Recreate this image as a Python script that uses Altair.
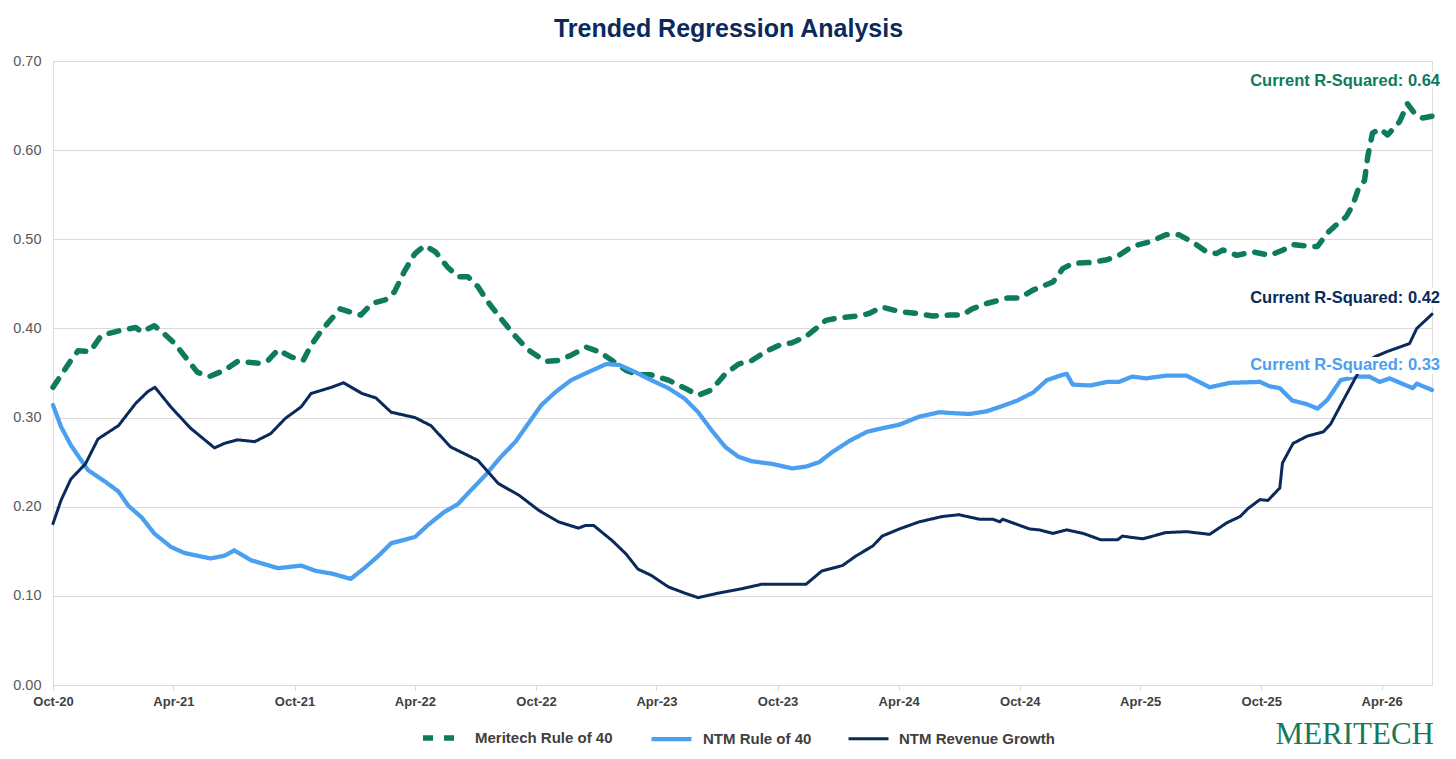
import altair as alt
import pandas as pd

series_names = ["Meritech Rule of 40", "NTM Rule of 40", "NTM Revenue Growth"]
series_colors = ["#0f7b5e", "#4a9ff0", "#0b2a5c"]

meritech_dates = [
    "2020-10-01", "2020-10-28", "2020-11-08", "2020-11-26", "2020-12-13", "2021-01-12", "2021-02-03", "2021-02-12", "2021-03-03", "2021-03-15",
    "2021-04-03", "2021-04-19", "2021-05-07", "2021-05-25", "2021-06-17", "2021-07-07", "2021-08-07", "2021-08-22", "2021-09-06", "2021-09-26",
    "2021-10-14", "2021-10-26", "2021-11-11", "2021-12-09", "2021-12-26", "2022-01-09", "2022-01-26", "2022-02-15", "2022-03-01", "2022-03-16",
    "2022-04-01", "2022-04-16", "2022-05-02", "2022-05-20", "2022-06-05", "2022-06-20", "2022-07-05", "2022-07-20", "2022-08-09", "2022-08-31",
    "2022-09-19", "2022-10-15", "2022-11-04", "2022-11-23", "2022-12-16", "2023-01-04", "2023-01-24", "2023-02-14", "2023-03-04", "2023-03-24",
    "2023-04-19", "2023-05-14", "2023-06-03", "2023-06-23", "2023-07-14", "2023-08-03", "2023-08-23", "2023-09-13", "2023-10-03", "2023-10-23",
    "2023-11-13", "2023-12-03", "2023-12-13", "2024-01-02", "2024-02-02", "2024-02-17", "2024-03-07", "2024-04-02", "2024-04-27", "2024-05-22",
    "2024-06-16", "2024-07-06", "2024-07-21", "2024-08-12", "2024-09-12", "2024-10-01", "2024-10-21", "2024-11-20", "2024-12-05", "2024-12-20",
    "2025-01-16", "2025-02-10", "2025-02-28", "2025-03-20", "2025-04-15", "2025-05-10", "2025-05-30", "2025-06-19", "2025-07-10", "2025-07-25",
    "2025-08-04", "2025-08-25", "2025-09-18", "2025-10-14", "2025-11-03", "2025-11-18", "2025-12-14", "2025-12-25", "2026-01-09", "2026-01-25",
    "2026-02-06", "2026-02-16", "2026-02-24", "2026-03-06", "2026-03-11", "2026-03-18", "2026-03-29", "2026-04-10", "2026-04-28", "2026-05-10",
    "2026-05-21", "2026-06-02", "2026-06-16",
]
meritech_values = [
    0.334, 0.364, 0.375, 0.374, 0.392, 0.398, 0.401, 0.396, 0.403, 0.396,
    0.383, 0.368, 0.351, 0.346, 0.353, 0.363, 0.361, 0.364, 0.376, 0.368,
    0.364, 0.381, 0.398, 0.422, 0.418, 0.415, 0.428, 0.432, 0.441, 0.464,
    0.484, 0.493, 0.486, 0.469, 0.458, 0.458, 0.447, 0.430, 0.411, 0.391,
    0.376, 0.363, 0.364, 0.370, 0.379, 0.374, 0.364, 0.353, 0.348, 0.348,
    0.342, 0.333, 0.325, 0.331, 0.349, 0.360, 0.364, 0.374, 0.381, 0.384,
    0.391, 0.403, 0.409, 0.412, 0.414, 0.417, 0.424, 0.419, 0.417, 0.414,
    0.415, 0.415, 0.422, 0.428, 0.434, 0.434, 0.443, 0.452, 0.467, 0.473,
    0.474, 0.477, 0.482, 0.492, 0.497, 0.505, 0.505, 0.497, 0.486, 0.484,
    0.488, 0.482, 0.486, 0.482, 0.488, 0.494, 0.492, 0.492, 0.507, 0.518,
    0.525, 0.538, 0.555, 0.566, 0.593, 0.619, 0.624, 0.617, 0.632, 0.652,
    0.641, 0.636, 0.638,
]

ntm_r40_dates = [
    "2020-10-01", "2020-10-13", "2020-10-28", "2020-11-23", "2020-12-19", "2021-01-08", "2021-01-23", "2021-02-12", "2021-03-03", "2021-03-28",
    "2021-04-18", "2021-05-07", "2021-05-27", "2021-06-17", "2021-07-02", "2021-07-27", "2021-09-06", "2021-10-11", "2021-11-02", "2021-11-26",
    "2021-12-25", "2022-01-16", "2022-02-05", "2022-02-24", "2022-04-01", "2022-04-20", "2022-05-15", "2022-06-05", "2022-06-24", "2022-07-16",
    "2022-08-09", "2022-08-31", "2022-09-19", "2022-10-09", "2022-10-31", "2022-11-23", "2022-12-19", "2023-01-15", "2023-02-04", "2023-02-28",
    "2023-03-24", "2023-04-19", "2023-05-14", "2023-06-03", "2023-06-23", "2023-07-14", "2023-08-03", "2023-08-23", "2023-09-23", "2023-10-23",
    "2023-11-13", "2023-12-03", "2023-12-22", "2024-01-18", "2024-02-13", "2024-03-07", "2024-04-02", "2024-05-02", "2024-06-02", "2024-06-21",
    "2024-07-17", "2024-08-12", "2024-09-01", "2024-09-27", "2024-10-21", "2024-11-11", "2024-12-05", "2024-12-11", "2024-12-20", "2025-01-16",
    "2025-02-10", "2025-02-28", "2025-03-20", "2025-04-10", "2025-05-10", "2025-06-10", "2025-06-29", "2025-07-15", "2025-08-15", "2025-09-29",
    "2025-10-14", "2025-10-29", "2025-11-17", "2025-12-09", "2025-12-25", "2026-01-09", "2026-01-29", "2026-02-23", "2026-03-13", "2026-03-29",
    "2026-04-13", "2026-05-02", "2026-05-18", "2026-05-24", "2026-06-16",
]
ntm_r40_values = [
    0.314, 0.290, 0.269, 0.241, 0.228, 0.217, 0.201, 0.188, 0.170, 0.155,
    0.148, 0.145, 0.142, 0.145, 0.151, 0.140, 0.131, 0.134, 0.128, 0.125,
    0.119, 0.132, 0.145, 0.159, 0.166, 0.179, 0.194, 0.203, 0.218, 0.235,
    0.256, 0.273, 0.293, 0.314, 0.329, 0.342, 0.351, 0.360, 0.359, 0.351,
    0.342, 0.333, 0.321, 0.306, 0.286, 0.267, 0.256, 0.251, 0.248, 0.243,
    0.245, 0.250, 0.261, 0.274, 0.284, 0.288, 0.292, 0.301, 0.306, 0.305,
    0.304, 0.307, 0.312, 0.319, 0.328, 0.342, 0.348, 0.349, 0.337, 0.336,
    0.340, 0.340, 0.346, 0.344, 0.347, 0.347, 0.340, 0.334, 0.339, 0.340,
    0.335, 0.333, 0.319, 0.315, 0.310, 0.320, 0.342, 0.346, 0.346, 0.340,
    0.344, 0.338, 0.333, 0.338, 0.331,
]

ntm_growth_dates = [
    "2020-10-01", "2020-10-13", "2020-10-28", "2020-11-19", "2020-12-08", "2021-01-08", "2021-02-03", "2021-02-21", "2021-03-04", "2021-03-28",
    "2021-04-27", "2021-06-02", "2021-06-17", "2021-07-07", "2021-08-02", "2021-08-26", "2021-09-17", "2021-10-11", "2021-10-26", "2021-11-26",
    "2021-12-14", "2022-01-11", "2022-02-01", "2022-02-24", "2022-04-01", "2022-04-25", "2022-05-25", "2022-07-05", "2022-08-05", "2022-09-05",
    "2022-10-05", "2022-11-04", "2022-12-04", "2022-12-15", "2022-12-27", "2023-01-24", "2023-02-14", "2023-03-04", "2023-03-24", "2023-04-19",
    "2023-05-14", "2023-06-03", "2023-07-03", "2023-08-08", "2023-09-07", "2023-10-14", "2023-11-13", "2023-12-07", "2024-01-07", "2024-01-28",
    "2024-02-22", "2024-03-07", "2024-04-02", "2024-05-02", "2024-06-06", "2024-07-01", "2024-08-01", "2024-08-21", "2024-09-01", "2024-09-05",
    "2024-10-16", "2024-10-31", "2024-11-20", "2024-12-11", "2025-01-05", "2025-01-31", "2025-02-26", "2025-03-05", "2025-04-05", "2025-05-10",
    "2025-06-10", "2025-07-15", "2025-08-10", "2025-08-30", "2025-09-11", "2025-09-29", "2025-10-11", "2025-10-29", "2025-11-02", "2025-11-18",
    "2025-12-09", "2026-01-03", "2026-01-14", "2026-01-29", "2026-02-17", "2026-03-01", "2026-03-21", "2026-04-09", "2026-04-28", "2026-05-13",
    "2026-05-24", "2026-06-06", "2026-06-16",
]
ntm_growth_values = [
    0.181, 0.207, 0.231, 0.248, 0.276, 0.291, 0.316, 0.329, 0.334, 0.312,
    0.288, 0.266, 0.271, 0.275, 0.273, 0.282, 0.299, 0.312, 0.327, 0.334,
    0.339, 0.327, 0.322, 0.306, 0.300, 0.291, 0.267, 0.252, 0.226, 0.213,
    0.196, 0.183, 0.176, 0.179, 0.179, 0.162, 0.147, 0.130, 0.123, 0.110,
    0.103, 0.098, 0.103, 0.108, 0.113, 0.113, 0.113, 0.128, 0.134, 0.145,
    0.156, 0.167, 0.175, 0.183, 0.189, 0.191, 0.186, 0.186, 0.183, 0.186,
    0.175, 0.174, 0.170, 0.174, 0.170, 0.163, 0.163, 0.167, 0.164, 0.171,
    0.172, 0.169, 0.182, 0.189, 0.198, 0.208, 0.207, 0.221, 0.249, 0.271,
    0.279, 0.284, 0.293, 0.314, 0.340, 0.357, 0.368, 0.374, 0.379, 0.383,
    0.400, 0.409, 0.416,
]

annotation_texts = ["Current R-Squared: 0.64", "Current R-Squared: 0.33", "Current R-Squared: 0.42"]
y_ticks = [0.0, 0.1, 0.2, 0.3, 0.4, 0.5, 0.6, 0.7]
x_tick_months = [(2020, 10), (2021, 4), (2021, 10), (2022, 4), (2022, 10), (2023, 4), (2023, 10),
                 (2024, 4), (2024, 10), (2025, 4), (2025, 10), (2026, 4)]

frames = []
for name, d, v in zip(series_names,
                      [meritech_dates, ntm_r40_dates, ntm_growth_dates],
                      [meritech_values, ntm_r40_values, ntm_growth_values]):
    frames.append(pd.DataFrame({"date": d, "value": v, "series": name}))
df = pd.concat(frames, ignore_index=True)

last = df.groupby("series", sort=False).tail(1).copy()
last["label"] = annotation_texts

W, H = 1379, 624
FONT = "Liberation Sans, Arial, sans-serif"

x_scale = alt.Scale(domain=[alt.DateTime(year=2020, month=10, date=1, utc=True),
                            alt.DateTime(year=2026, month=6, date=16, utc=True)])
y_scale = alt.Scale(domain=[0, 0.7])

legend = alt.Legend(
    title=None, orient="none", legendX=367, legendY=654, direction="horizontal",
    symbolType="stroke", symbolSize=1600, symbolStrokeWidth=6,
    labelFont=FONT, labelFontSize=15, labelFontWeight="bold", labelColor="#404040",
    columnPadding=30, labelOffset=9,
)

x_axis = alt.Axis(
    values=[alt.DateTime(year=y, month=m, date=1, utc=True) for y, m in x_tick_months],
    labelExpr="utcFormat(datum.value, '%b-%y')", title=None, grid=False,
    domainColor="#d9d9d9", tickColor="#d9d9d9", tickSize=5,
    labelFont=FONT, labelFontSize=13, labelFontWeight="bold", labelColor="#404040",
    labelPadding=5, labelFlush=False,
)
y_axis = alt.Axis(
    values=y_ticks, format=".2f", title=None, domain=False, ticks=False,
    labelFont=FONT, labelFontSize=14.5, labelColor="#595959", labelPadding=12,
    gridColor="#d9d9d9", gridWidth=1,
)

lines = alt.Chart(df).mark_line(strokeCap="round", strokeJoin="round").encode(
    x=alt.X("date:T", scale=x_scale, axis=x_axis),
    y=alt.Y("value:Q", scale=y_scale, axis=y_axis),
    color=alt.Color("series:N", scale=alt.Scale(domain=series_names, range=series_colors),
                    legend=legend, sort=series_names),
    strokeDash=alt.StrokeDash("series:N", scale=alt.Scale(domain=series_names,
                                                           range=[[10, 11], [1, 0], [1, 0]]),
                              legend=legend, sort=series_names),
    strokeWidth=alt.StrokeWidth("series:N", scale=alt.Scale(domain=series_names, range=[5.5, 3, 3]),
                                legend=None),
    order=alt.Order("date:T"),
)

label_dy = {"Meritech Rule of 40": -35, "NTM Rule of 40": -25, "NTM Revenue Growth": -16}
layers = [lines]
for name, col in zip(series_names, series_colors):
    sub = last[last["series"] == name]
    base = alt.Chart(sub).encode(x="date:T", y="value:Q", text="label:N")
    halo = base.mark_text(align="right", baseline="middle", dx=8, dy=label_dy[name],
                          font=FONT, fontSize=16.5, fontWeight="bold",
                          color="white", stroke="white", strokeWidth=8, strokeJoin="round")
    txt = base.mark_text(align="right", baseline="middle", dx=8, dy=label_dy[name],
                         font=FONT, fontSize=16.5, fontWeight="bold", color=col)
    layers += [halo, txt]

logo = alt.Chart(pd.DataFrame({"t": ["MERITECH"]})).mark_text(
    align="right", baseline="middle", font="Liberation Serif, Times New Roman, serif",
    fontSize=31, color="#157a5b",
).encode(x=alt.value(W + 2), y=alt.value(H + 50), text="t:N")
layers.append(logo)

chart = alt.layer(*layers).properties(
    width=W, height=H,
    title=alt.TitleParams("Trended Regression Analysis", font=FONT, fontSize=25,
                          fontWeight="bold", color="#0b2a5c", anchor="middle",
                          dx=-14, offset=11),
    autosize=alt.AutoSizeParams(type="none"),
    padding={"left": 45, "top": 53, "right": 16, "bottom": 66},
).configure_view(stroke=None).configure(background="white")

chart.save("out.html", embed_options={"renderer": "svg", "actions": False})
